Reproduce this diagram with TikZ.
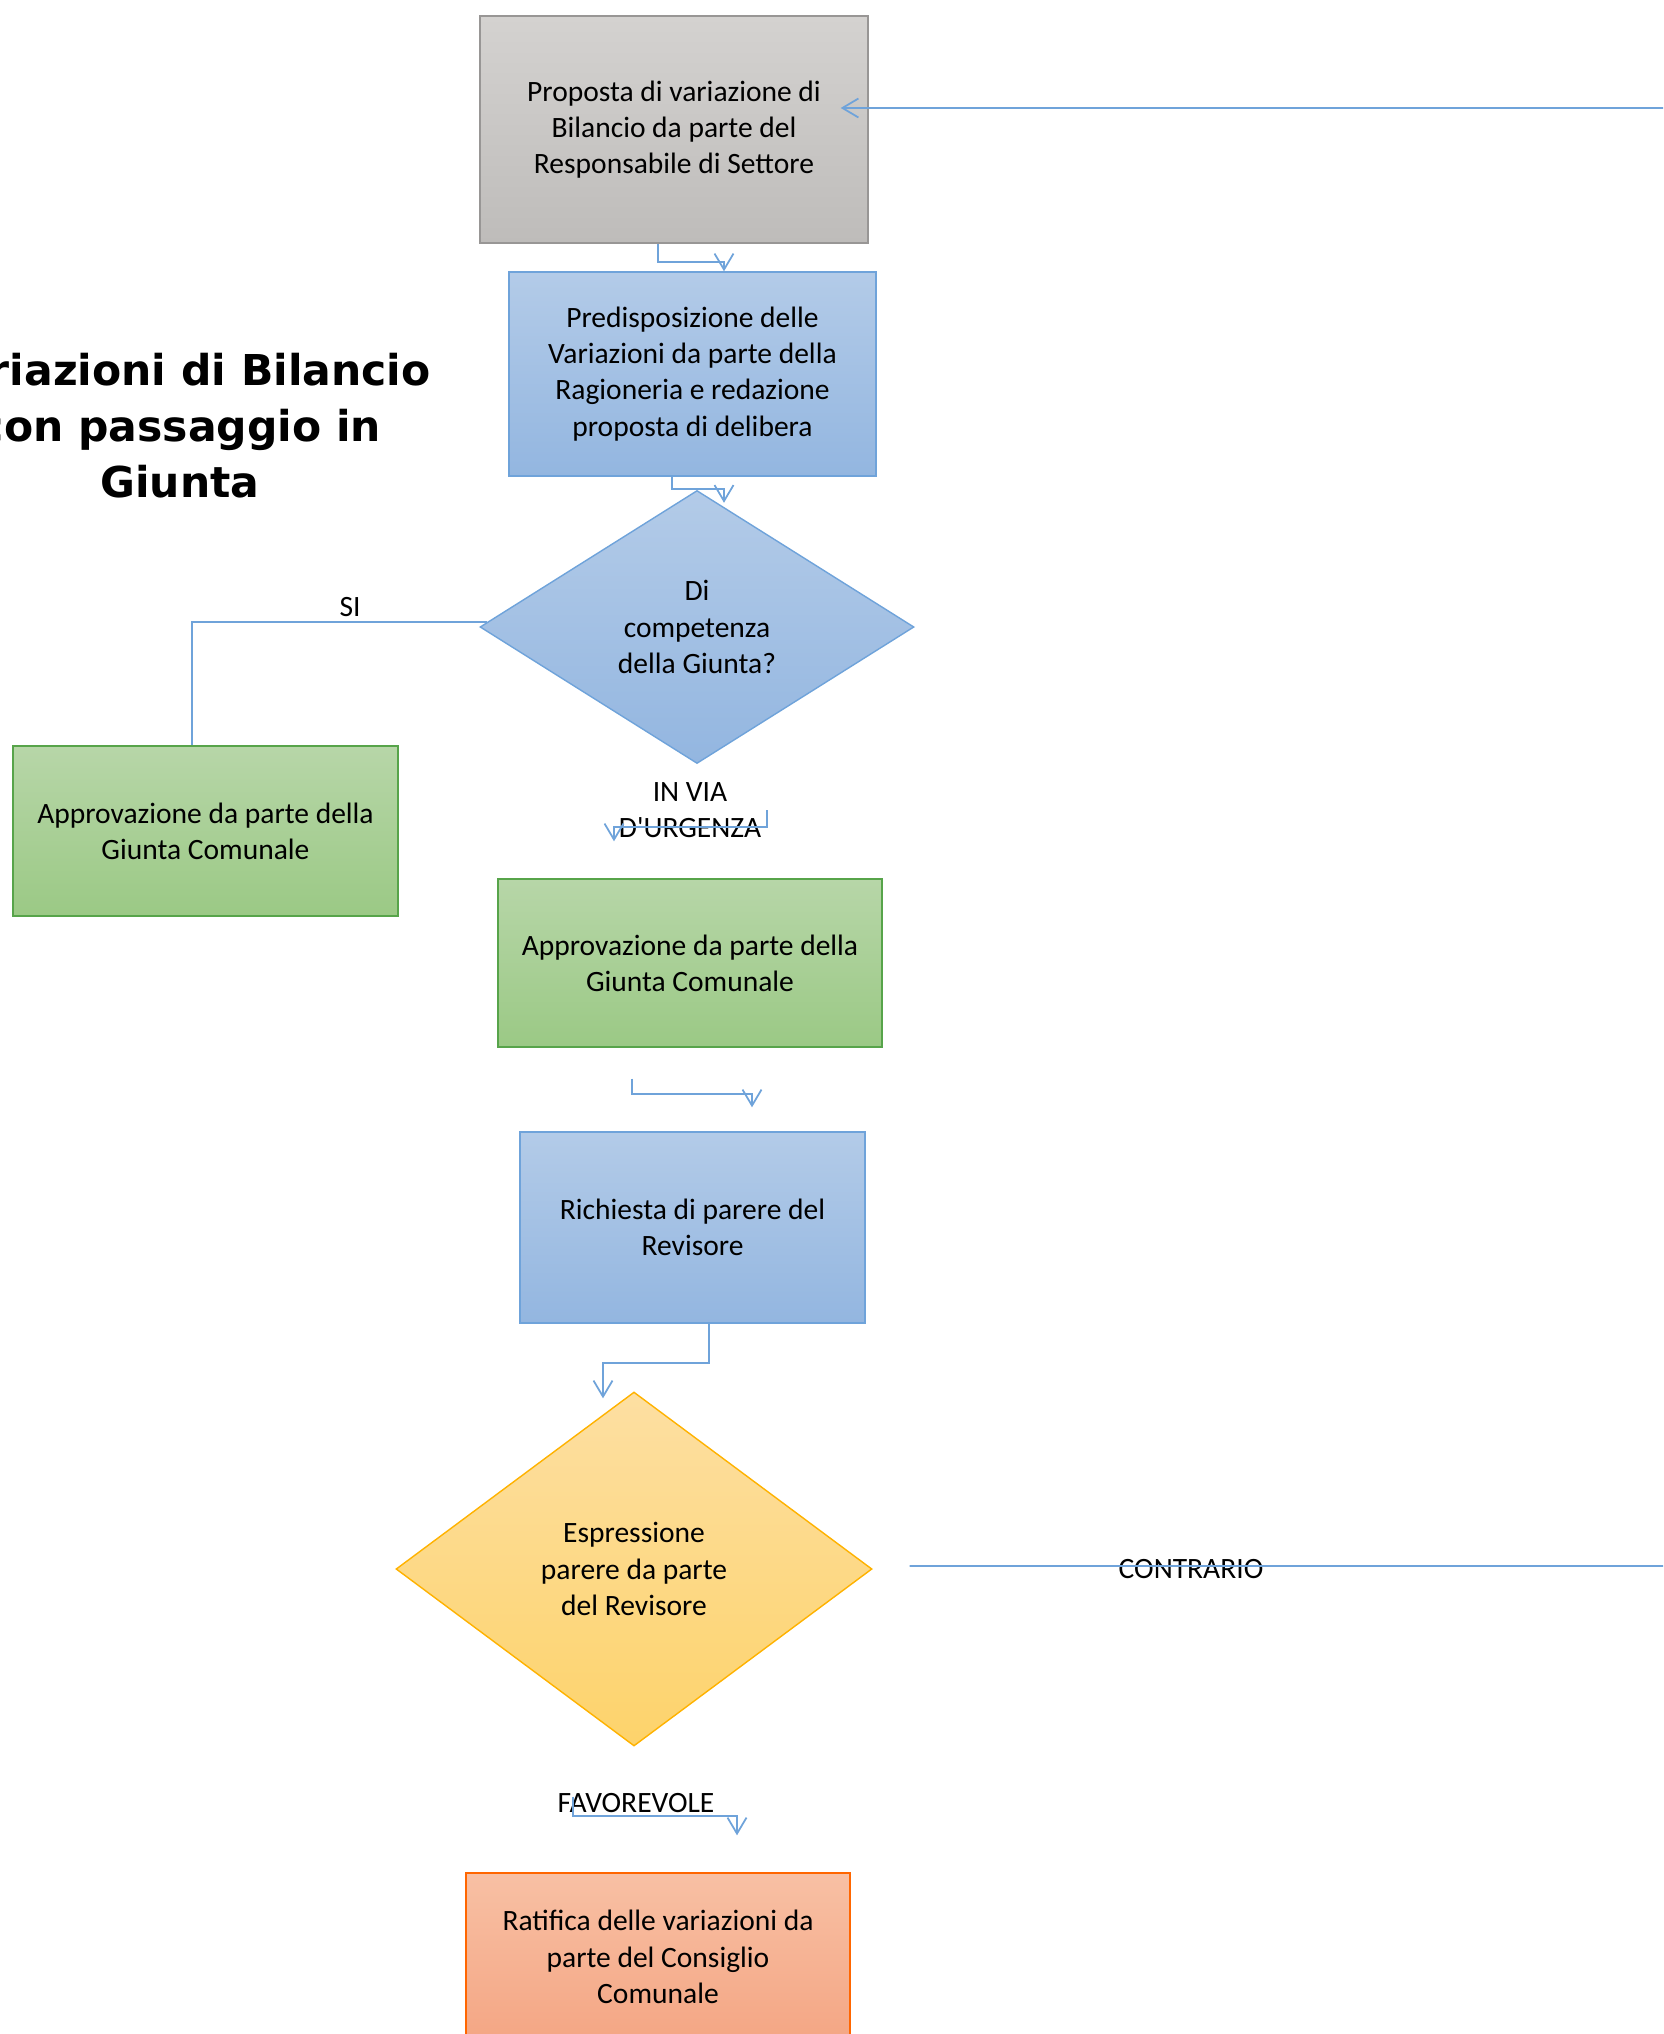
\documentclass[tikz,border=0pt]{standalone}
\usepackage{fontspec}
\setmainfont{Carlito}
\newfontfamily\dritto{Carlito}
\newfontfamily\titlefont{DejaVu Sans}
\usetikzlibrary{arrows.meta,shapes.geometric}

\definecolor{lineablu}{HTML}{6FA3DA}
\definecolor{grigioA}{HTML}{D4D2D0}
\definecolor{grigioB}{HTML}{BEBCBA}
\definecolor{bluA}{HTML}{B3CBE8}
\definecolor{bluB}{HTML}{93B6E0}
\definecolor{verdeA}{HTML}{B7D6A8}
\definecolor{verdeB}{HTML}{9BC985}
\definecolor{gialloA}{HTML}{FDDFA2}
\definecolor{gialloB}{HTML}{FDD36B}
\definecolor{aranA}{HTML}{F8C0A4}
\definecolor{aranB}{HTML}{F4A684}

\begin{document}
\begin{tikzpicture}[x=0.1mm,y=-0.1mm,
  testo/.style={font=\fontsize{8.4}{10.3}\selectfont,align=center,inner sep=0pt},
  scatola/.style={testo,rectangle,draw,line width=0.4pt},
  grigia/.style={scatola,draw=grigioB!80!black,top color=grigioA,bottom color=grigioB},
  blu/.style={scatola,draw=lineablu,top color=bluA,bottom color=bluB},
  verde/.style={scatola,draw=verdeB!70!black!80!green,top color=verdeA,bottom color=verdeB},
  arancio/.style={scatola,draw=orange!80!red,top color=aranA,bottom color=aranB},
  rombo/.style={testo,diamond,draw,line width=0.4pt},
  conn/.style={draw=lineablu,line width=0.5pt},
  freccia/.style={conn,-{Straight Barb[length=1.6mm,width=1.9mm]}},
  etichetta/.style={testo}]
\useasboundingbox (0,0) rectangle (1663,2034);
\clip (0,0) rectangle (1663,2034);

\node[font=\titlefont\bfseries\fontsize{12.1}{15.9}\selectfont,align=center] (titolo) at (180,426) {Variazioni di Bilancio\\con passaggio in\\Giunta};

\node[grigia,minimum width=38.8mm,minimum height=22.7mm] (prop) at (674,129.5) {Proposta di variazione di\\Bilancio da parte del\\Responsabile di Settore};
\node[blu,minimum width=36.7mm,minimum height=20.4mm] (pred) at (692.5,374) {Predisposizione delle\\Variazioni da parte della\\Ragioneria e redazione\\proposta di delibera};
\node[rombo,draw=lineablu,top color=bluA,bottom color=bluB,minimum width=43.4mm,minimum height=27.3mm] (dec1) at (697,627) {Di\\competenza\\della Giunta?};
\node[verde,minimum width=38.5mm,minimum height=17mm] (giuntaA) at (205.5,831) {Approvazione da parte della\\Giunta Comunale};
\node[verde,minimum width=38.4mm,minimum height=16.8mm] (giuntaB) at (690,963) {Approvazione da parte della\\Giunta Comunale};
\node[blu,minimum width=34.5mm,minimum height=19.1mm] (ric) at (692.5,1227.5) {Richiesta di parere del\\Revisore};
\node[rombo,draw=orange!60!yellow,top color=gialloA,bottom color=gialloB,minimum width=47.6mm,minimum height=35.4mm] (dec2) at (634,1569) {Espressione\\parere da parte\\del Revisore};
\node[arancio,minimum width=38.4mm,minimum height=16.8mm] (rat) at (658,1957) {Ratifica delle variazioni da\\parte del Consiglio\\Comunale};

\node[etichetta] (si) at (350,607) {SI};
\node[etichetta] (urg) at (690,810) {IN VIA\\\dritto D'URGENZA};
\node[etichetta] (contr) at (1191,1569) {CONTRARIO};
\node[etichetta] (fav) at (636,1803) {FAVOREVOLE};

\coordinate (fuoriA) at (1663,108);
\coordinate (fuoriB) at (1663,1566);

\draw[freccia] ([xshift=-1.6mm]prop.south) -- ++(0,18) -| ([xshift=3.15mm]pred.north);
\draw[freccia] ([xshift=-2.05mm]pred.south) -- ++(0,12) -| ([xshift=2.7mm,yshift=-1.3mm]dec1.north);
\draw[conn] ([xshift=0.8mm,yshift=0.5mm]dec1.west) -| ([xshift=-1.35mm]giuntaA.north);
\draw[freccia] ([xshift=7mm,yshift=-4.6mm]dec1.south) -- ++(0,17) -| ([xshift=-7.6mm,yshift=3.7mm]giuntaB.north);
\draw[freccia] ([xshift=-5.8mm,yshift=-3.1mm]giuntaB.south) -- ++(0,15) -| ([xshift=5.95mm,yshift=2.4mm]ric.north);
\draw[freccia] ([xshift=1.65mm]ric.south) -- ++(0,39) -| ([xshift=-3.1mm,yshift=-0.7mm]dec2.north);
\draw[conn] ([xshift=3.7mm,yshift=0.3mm]dec2.east) -- (fuoriB);
\draw[freccia] ([xshift=-6.1mm,yshift=-5mm]dec2.south) -- ++(0,19) -| ([xshift=7.9mm,yshift=3.7mm]rat.north);
\draw[freccia] (fuoriA) -- ([xshift=-2.8mm,yshift=2.15mm]prop.east);
\end{tikzpicture}
\end{document}
